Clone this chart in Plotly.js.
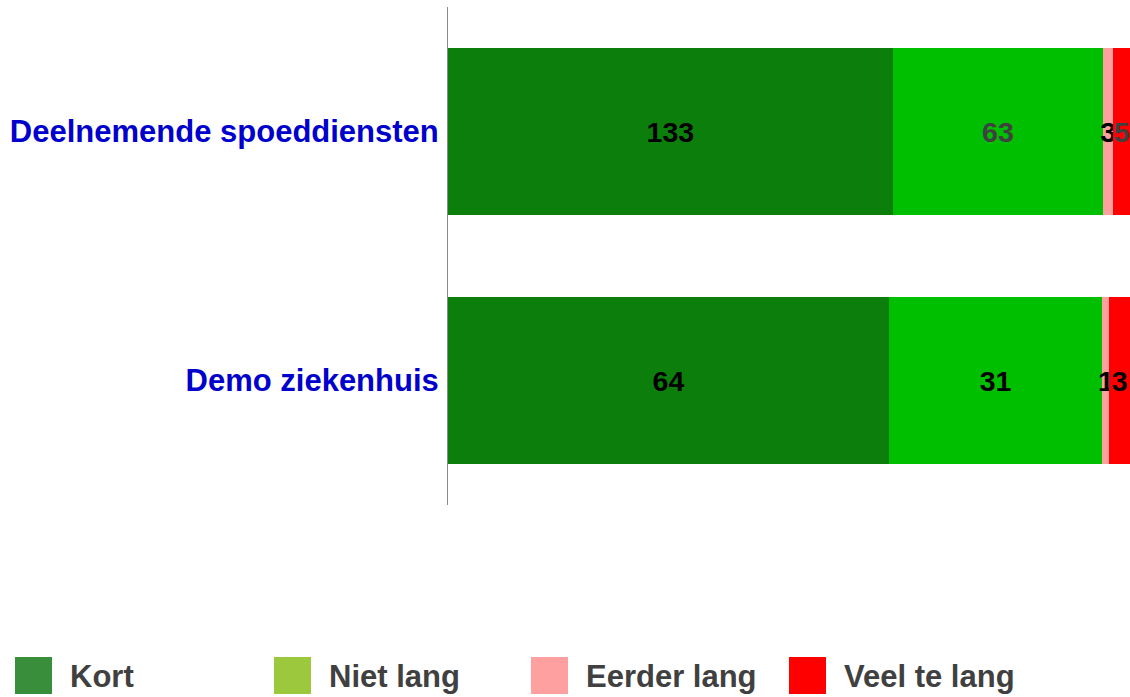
<!DOCTYPE html>
<html><head><meta charset="utf-8">
<script src="https://cdn.plot.ly/plotly-3.0.1.min.js"></script>
<style>html,body{margin:0;padding:0;background:#fff}#chart{width:1130px;height:697px}</style>
</head><body><div id="chart"></div>
<script>
const categories = ["Deelnemende spoeddiensten", "Demo ziekenhuis"];
const seriesNames = ["Kort", "Niet lang", "Eerder lang", "Veel te lang"];
const kort = [133, 64];
const nietLang = [63, 31];
const eerderLang = [3, 1];
const veelTeLang = [5, 3];
const barColors = ["#0c7e0c", "#00bf00", "#ffa0a0", "#ff0000"];
const legendColors = ["#388e3a", "#9bc83c", "#ffa0a0", "#ff0000"];
const labelColors = [["#000000", "#000000"], ["#404040", "#000000"], ["#000000", "#000000"], ["#404040", "#000000"]];

const values = [kort, nietLang, eerderLang, veelTeLang];
const FONT = 'Arial';

const traces = values.map((v, i) => ({
  type: 'bar', orientation: 'h', name: seriesNames[i],
  y: categories, x: v, text: v.map(String), texttemplate: '%{text}',
  textposition: 'inside', insidetextanchor: 'middle', textangle: 0,
  constraintext: 'none', cliponaxis: false,
  textfont: {family: FONT, size: 28.5, color: labelColors[i], weight: 'bold'},
  marker: {color: barColors[i], line: {width: 0}},
  hoverinfo: 'skip', showlegend: false
}));

const L = 448, R = 1130, T = 7, B = 505;
const px = x => (x - L) / (R - L);
const py = y => (B - y) / (B - T);
const legendX = [15, 274, 531, 789];
const shapes = [], annotations = [];
seriesNames.forEach((n, i) => {
  shapes.push({type: 'rect', xref: 'paper', yref: 'paper',
    x0: px(legendX[i]), x1: px(legendX[i] + 37), y0: py(694), y1: py(657),
    fillcolor: legendColors[i], line: {width: 0}});
  annotations.push({xref: 'paper', yref: 'paper', x: px(legendX[i] + 53), y: py(676),
    xanchor: 'left', yanchor: 'middle', showarrow: false, text: n,
    font: {family: FONT, size: 31, color: '#404040', weight: 'bold'}});
});

const layout = {
  width: 1130, height: 697,
  margin: {l: L, r: 1130 - R, t: T, b: 697 - B, pad: 0},
  paper_bgcolor: '#fff', plot_bgcolor: '#fff',
  barmode: 'stack', barnorm: 'percent', bargap: 0.33,
  uniformtext: {minsize: 28, mode: 'show'},
  xaxis: {range: [0, 100], visible: false, fixedrange: true},
  yaxis: {autorange: 'reversed', showline: true, linecolor: '#8c8c8c', linewidth: 1,
    showgrid: false, zeroline: false, ticks: '', ticklabelstandoff: 2,
    tickfont: {family: FONT, size: 31, color: '#0000cc', weight: 'bold'}},
  showlegend: false,
  shapes: shapes, annotations: annotations
};
Plotly.newPlot('chart', traces, layout, {displayModeBar: false, staticPlot: true});
</script></body></html>
